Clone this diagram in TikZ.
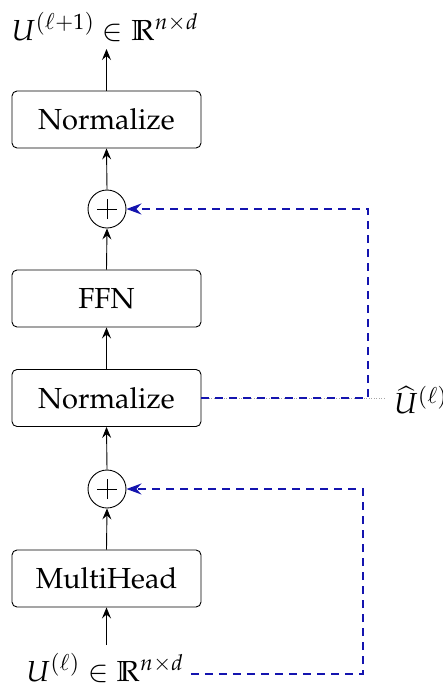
\documentclass[tikz,border=0pt]{standalone}
\usepackage[T1]{fontenc}
\usepackage{mathpazo}
\usepackage{amssymb}
\usetikzlibrary{arrows.meta}
\definecolor{skipblue}{RGB}{20,20,175}
\begin{document}
\begin{tikzpicture}[x=1pt,y=-1pt,
  every node/.style={font=\fontsize{29}{35}\selectfont},
  block/.style={draw, line width=0.9pt, rounded corners=5pt, minimum width=189pt, minimum height=57pt, inner sep=0pt},
  addnode/.style={draw, circle, line width=0.9pt, minimum size=38pt, inner sep=0pt},
  flow/.style={line width=0.9pt, -{Stealth[length=11pt,width=9pt,inset=4pt]}},
  skip/.style={draw=skipblue, line width=1.6pt, dash pattern=on 8pt off 6pt, -{Stealth[length=15pt,width=11pt,inset=5pt]}},
  guide/.style={draw=gray!70, line width=0.5pt, dotted}
]
\useasboundingbox (0,0) rectangle (443,691);
\node (out) at (105,27) {$U^{(\ell+1)}\in\mathbb{R}^{n\times d}$};
\node[block] (n1) at (106.5,119.5) {Normalize};
\node[addnode] (p1) at (107,209) {};
\node[block] (ffn) at (106.5,298.5) {FFN};
\node[block] (n2) at (106.5,398) {Normalize};
\node[addnode] (p2) at (107,489) {};
\node[block] (mh) at (106.5,578.5) {MultiHead};
\node (in) at (105,668) {$U^{(\ell)}\in\mathbb{R}^{n\times d}$};
\node[anchor=west, inner sep=2pt] (uh) at (392,400) {$\widehat{U}^{(\ell)}$};
\coordinate (c1) at (368,398);
\coordinate (c2) at (363,674);
% plus signs
\draw[line width=0.9pt] ([xshift=-10pt]p1.center) -- ([xshift=10pt]p1.center) ([yshift=-10pt]p1.center) -- ([yshift=10pt]p1.center);
\draw[line width=0.9pt] ([xshift=-10pt]p2.center) -- ([xshift=10pt]p2.center) ([yshift=-10pt]p2.center) -- ([yshift=10pt]p2.center);
% main flow
\draw[flow] (in.north -| mh) ++(0,-5) -- (mh.south);
\draw[flow] (mh.north) -- (p2.south);
\draw[flow] (p2.north) -- (n2.south);
\draw[flow] (n2.north) -- (ffn.south);
\draw[flow] (ffn.north) -- (p1.south);
\draw[flow] (p1.north) -- (n1.south);
\draw[flow] (n1.north) -- ([yshift=-4pt]out.south -| n1);
% guide line
\draw[guide] (n2.east) -- ([xshift=-6pt]uh.west |- c1);
% skip connections
\draw[skip] ([xshift=4pt]in.east |- c2) -- (c2) |- (p2.east);
\draw[skip] (n2.east) -- (c1) |- (p1.east);
\end{tikzpicture}
\end{document}
